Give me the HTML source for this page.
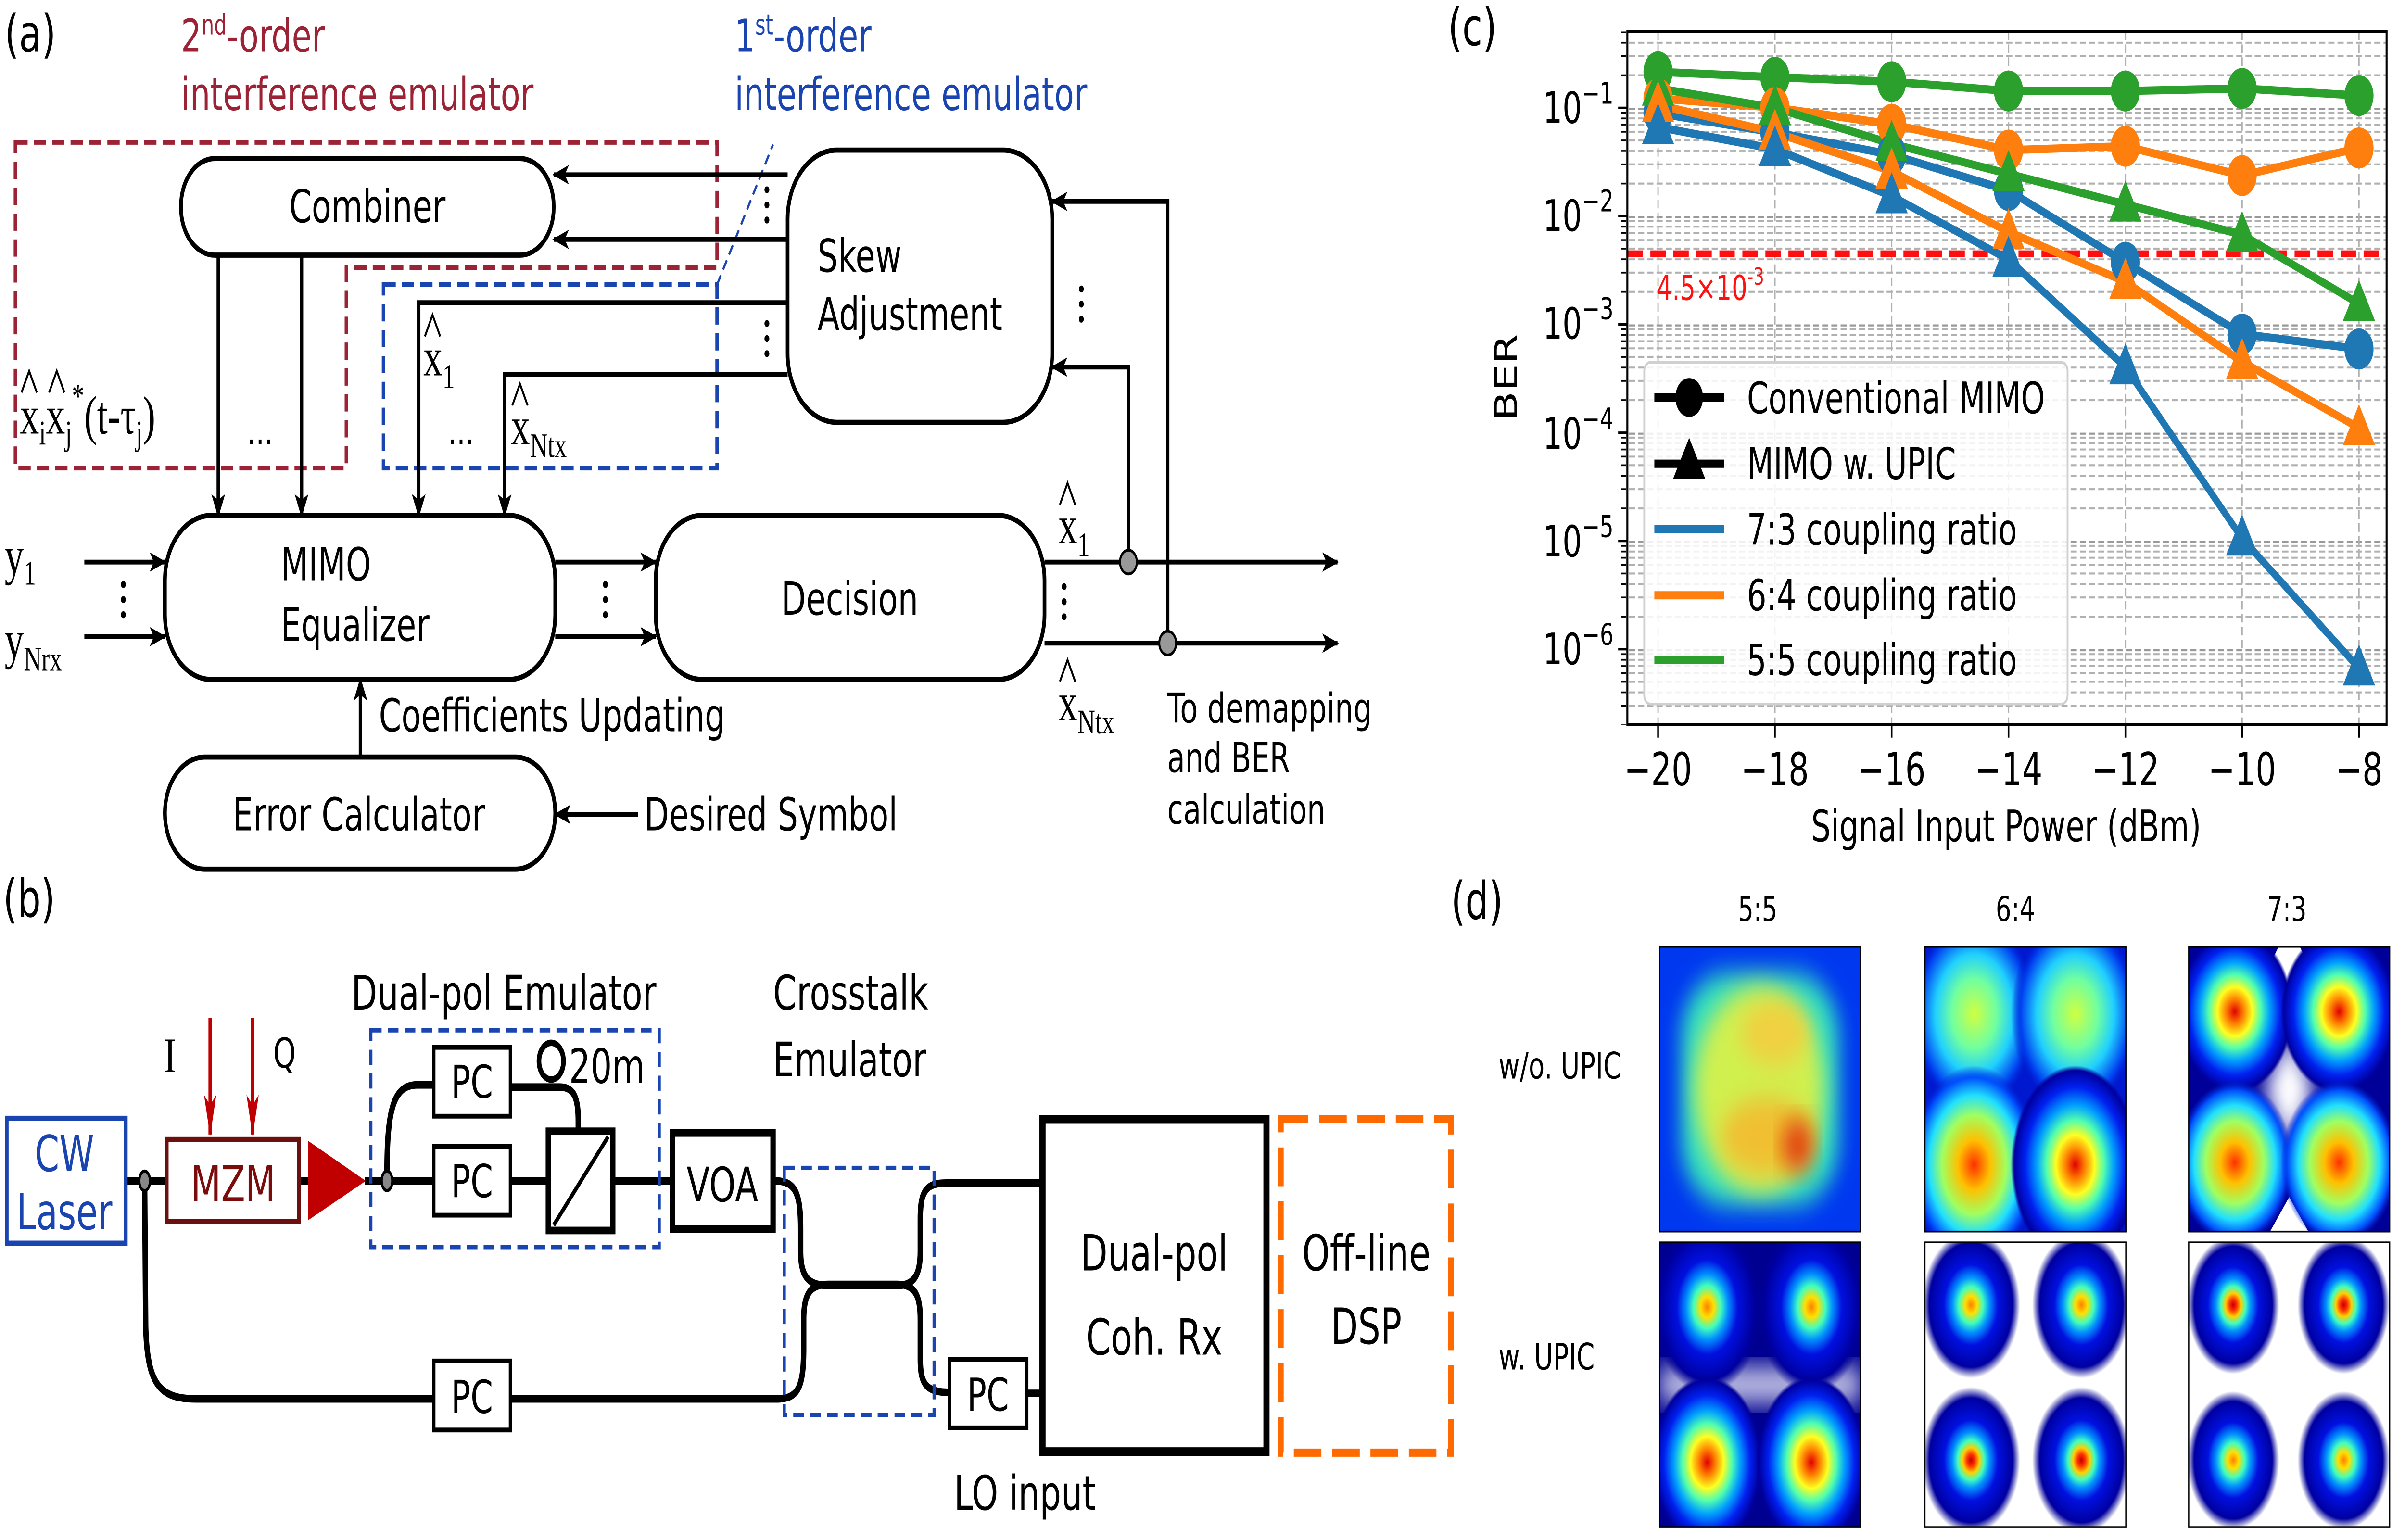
<!DOCTYPE html>
<html><head><meta charset="utf-8"><style>html,body{margin:0;padding:0;background:#fff;overflow:hidden}svg{display:block;width:100vw;height:100vh}</style></head>
<body>
<svg xmlns="http://www.w3.org/2000/svg" viewBox="0 0 1568 714" preserveAspectRatio="none" font-family="'DejaVu Sans','Liberation Sans',sans-serif">
<defs>
<marker id="ah" viewBox="0 0 12 10" refX="11" refY="5" markerWidth="12" markerHeight="9" markerUnits="userSpaceOnUse" orient="auto"><path d="M0,0 L12,5 L0,10 L3,5 z" fill="#000"/></marker>
<marker id="ahr" viewBox="0 0 10 24" refX="5" refY="23" markerWidth="8" markerHeight="22" markerUnits="userSpaceOnUse" orient="0"><path d="M0,0 L5,24 L10,0 L5,6 z" fill="#c00000"/></marker>
<pattern id="grid" patternUnits="userSpaceOnUse" x="0" y="50" width="600" height="50.2">
<g stroke="#b0b0b0" stroke-width="0.9" stroke-dasharray="4,2">
<line x1="0" y1="0.4" x2="600" y2="0.4" stroke="#999" stroke-width="1.1"/>
<line x1="0" y1="35.1" x2="600" y2="35.1"/><line x1="0" y1="26.2" x2="600" y2="26.2"/>
<line x1="0" y1="20" x2="600" y2="20"/><line x1="0" y1="15.1" x2="600" y2="15.1"/>
<line x1="0" y1="11.1" x2="600" y2="11.1"/><line x1="0" y1="7.8" x2="600" y2="7.8"/>
<line x1="0" y1="4.9" x2="600" y2="4.9"/><line x1="0" y1="2.3" x2="600" y2="2.3"/>
</g></pattern>
<pattern id="mt" patternUnits="userSpaceOnUse" x="0" y="50" width="10" height="50.2">
<g stroke="#000" stroke-width="0.8">
<line x1="7" y1="35.1" x2="10" y2="35.1"/><line x1="7" y1="26.2" x2="10" y2="26.2"/>
<line x1="7" y1="20" x2="10" y2="20"/><line x1="7" y1="15.1" x2="10" y2="15.1"/>
<line x1="7" y1="11.1" x2="10" y2="11.1"/><line x1="7" y1="7.8" x2="10" y2="7.8"/>
<line x1="7" y1="4.9" x2="10" y2="4.9"/><line x1="7" y1="2.3" x2="10" y2="2.3"/>
</g></pattern>
<radialGradient id="gWide"><stop offset="0" stop-color="#ff3000"/><stop offset="0.25" stop-color="#ffc000"/><stop offset="0.5" stop-color="#a0ff60"/><stop offset="0.7" stop-color="#20e0ff"/><stop offset="0.88" stop-color="#0050ff"/><stop offset="1" stop-color="#0020d0" stop-opacity="0"/></radialGradient>
<radialGradient id="gCyan"><stop offset="0" stop-color="#d0ff40"/><stop offset="0.35" stop-color="#70ffa0"/><stop offset="0.6" stop-color="#20d0ff"/><stop offset="0.85" stop-color="#0040f0"/><stop offset="1" stop-color="#0010c0" stop-opacity="0"/></radialGradient>
<radialGradient id="gMid"><stop offset="0" stop-color="#e00000"/><stop offset="0.15" stop-color="#ff8000"/><stop offset="0.3" stop-color="#ffff20"/><stop offset="0.45" stop-color="#50ffb0"/><stop offset="0.6" stop-color="#00a0ff"/><stop offset="0.78" stop-color="#0020f0"/><stop offset="0.95" stop-color="#0000a0"/><stop offset="1" stop-color="#000090" stop-opacity="0"/></radialGradient>
<radialGradient id="gTight"><stop offset="0" stop-color="#c00000"/><stop offset="0.08" stop-color="#ff3000"/><stop offset="0.17" stop-color="#ffd000"/><stop offset="0.27" stop-color="#40ffc0"/><stop offset="0.38" stop-color="#0090ff"/><stop offset="0.55" stop-color="#0010e0"/><stop offset="0.85" stop-color="#0000a0"/><stop offset="1" stop-color="#000090" stop-opacity="0"/></radialGradient>
<radialGradient id="gTight2"><stop offset="0" stop-color="#ff8000"/><stop offset="0.12" stop-color="#ffe000"/><stop offset="0.25" stop-color="#40ffc0"/><stop offset="0.38" stop-color="#0090ff"/><stop offset="0.55" stop-color="#0010e0"/><stop offset="0.85" stop-color="#0000a0"/><stop offset="1" stop-color="#000090" stop-opacity="0"/></radialGradient>
<clipPath id="cp"><rect x="0" y="0" width="131" height="132"/></clipPath>
<filter id="bl" x="-0.3" y="-0.3" width="1.6" height="1.6"><feGaussianBlur stdDeviation="6"/></filter>
</defs>

<!-- ================= (a) ================= -->
<g fill="#000" font-size="22">
<text x="3" y="24" font-size="24">(a)</text>
<text x="118" y="24" fill="#9b2335" font-size="21">2<tspan dy="-8" font-size="13">nd</tspan><tspan dy="8">-order</tspan></text>
<text x="118" y="51" fill="#9b2335" font-size="21">interference emulator</text>
<text x="479" y="24" fill="#1a44b0" font-size="21">1<tspan dy="-8" font-size="13">st</tspan><tspan dy="8">-order</tspan></text>
<text x="479" y="51" fill="#1a44b0" font-size="21">interference emulator</text>
</g>
<path d="M10,66 H467.5 V124 H225.8 V217 H10 Z" fill="none" stroke="#9b2335" stroke-width="2.2" stroke-dasharray="8,4"/>
<rect x="250" y="132" width="217.5" height="85" fill="none" stroke="#1a44b0" stroke-width="2.2" stroke-dasharray="8,4"/>
<line x1="467.5" y1="132" x2="504" y2="67" stroke="#1a44b0" stroke-width="1.3" stroke-dasharray="5,3"/>

<g fill="none" stroke="#000" stroke-width="2.4">
<rect x="118" y="73.5" width="243" height="44.8" rx="22" ry="22"/>
<rect x="513.5" y="69.6" width="172.5" height="126.2" rx="32" ry="32"/>
<rect x="107.5" y="239" width="254.5" height="76" rx="30" ry="30"/>
<rect x="427.5" y="239" width="253.5" height="76" rx="30" ry="30"/>
<rect x="107.5" y="351" width="254.5" height="52" rx="26" ry="26"/>
</g>
<g fill="#000">
<text x="239.5" y="103" text-anchor="middle" font-size="21">Combiner</text>
<text x="533" y="126" font-size="21">Skew</text>
<text x="533" y="153" font-size="21">Adjustment</text>
<text x="183" y="269" font-size="21">MIMO</text>
<text x="183" y="297" font-size="21">Equalizer</text>
<text x="554" y="285" text-anchor="middle" font-size="21">Decision</text>
<text x="234" y="385" text-anchor="middle" font-size="21">Error Calculator</text>
<text x="247" y="339" font-size="21">Coefficients Updating</text>
<text x="420" y="385" font-size="21">Desired Symbol</text>
<text x="761" y="335" font-size="19">To demapping</text>
<text x="761" y="358" font-size="19">and BER</text>
<text x="761" y="382" font-size="19">calculation</text>
</g>
<g stroke="#000" stroke-width="2.2" fill="none" marker-end="url(#ah)">
<line x1="513.5" y1="81" x2="361" y2="81"/>
<line x1="513.5" y1="111" x2="361" y2="111"/>
<line x1="142.3" y1="118" x2="142.3" y2="239"/>
<line x1="196.6" y1="118" x2="196.6" y2="239"/>
<polyline points="513.5,140.3 273,140.3 273,239"/>
<polyline points="513.5,173.6 329,173.6 329,239"/>
<line x1="55" y1="260.6" x2="107.5" y2="260.6"/>
<line x1="55" y1="295.2" x2="107.5" y2="295.2"/>
<line x1="362" y1="260.6" x2="427.5" y2="260.6"/>
<line x1="362" y1="295.2" x2="427.5" y2="295.2"/>
<line x1="681" y1="260.6" x2="872" y2="260.6"/>
<line x1="681" y1="298.2" x2="872" y2="298.2"/>
<polyline points="735.7,260.6 735.7,170.2 686,170.2"/>
<polyline points="761.3,298.2 761.3,93.4 686,93.4"/>
<line x1="235" y1="351" x2="235" y2="315"/>
<line x1="416" y1="377.6" x2="362" y2="377.6"/>
</g>
<g fill="#999" stroke="#000" stroke-width="1.3"><circle cx="735.7" cy="260.6" r="5.5"/><circle cx="761.3" cy="298.2" r="5.5"/></g>
<g fill="#000">
<circle cx="500" cy="88" r="1.6"/><circle cx="500" cy="95" r="1.6"/><circle cx="500" cy="102" r="1.6"/>
<circle cx="500" cy="150" r="1.6"/><circle cx="500" cy="157" r="1.6"/><circle cx="500" cy="164" r="1.6"/>
<circle cx="705" cy="134" r="1.6"/><circle cx="705" cy="141" r="1.6"/><circle cx="705" cy="148" r="1.6"/>
<circle cx="80.4" cy="271" r="1.6"/><circle cx="80.4" cy="278" r="1.6"/><circle cx="80.4" cy="285" r="1.6"/>
<circle cx="394.7" cy="271" r="1.6"/><circle cx="394.7" cy="278" r="1.6"/><circle cx="394.7" cy="285" r="1.6"/>
<circle cx="693.8" cy="272" r="1.6"/><circle cx="693.8" cy="279" r="1.6"/><circle cx="693.8" cy="286" r="1.6"/>
<text x="161" y="206" font-size="18">...</text>
<text x="292" y="206" font-size="18">...</text>
</g>
<g font-family="'Liberation Serif','DejaVu Serif',serif" fill="#000" font-size="25">
<text x="3" y="266">y<tspan dy="5" font-size="16">1</tspan></text>
<text x="3" y="305">y<tspan dy="6" font-size="16">Nrx</tspan></text>
<text x="13" y="201">x<tspan dy="5" font-size="16">i</tspan><tspan dy="-5">x</tspan><tspan dy="5" font-size="16">j</tspan><tspan dy="-17" font-size="16">*</tspan><tspan dy="12">(t-τ</tspan><tspan dy="5" font-size="16">j</tspan><tspan dy="-5">)</tspan></text>
<text x="276" y="174">x<tspan dy="6" font-size="16">1</tspan></text>
<text x="333" y="206">x<tspan dy="6" font-size="16">Ntx</tspan></text>
<text x="690" y="252">x<tspan dy="6" font-size="16">1</tspan></text>
<text x="690" y="334">x<tspan dy="6" font-size="16">Ntx</tspan></text>
</g>
<g fill="none" stroke="#000" stroke-width="1.2">
<path d="M14,182 L19,172 L24,182"/><path d="M32,182 L37,172 L42,182"/>
<path d="M277,156 L282,146 L287,156"/><path d="M334,188 L339,178 L344,188"/>
<path d="M691,234 L696,224 L701,234"/><path d="M691,316 L696,306 L701,316"/>
</g>

<!-- ================= (b) ================= -->
<text x="2" y="425" font-size="24">(b)</text>
<text x="229" y="468" font-size="22">Dual-pol Emulator</text>
<text x="504" y="468" font-size="22">Crosstalk</text>
<text x="504" y="499" font-size="22">Emulator</text>
<text x="622" y="700" font-size="22">LO input</text>
<text x="107" y="497" font-size="23" font-family="'Liberation Serif',serif">I</text>
<text x="178" y="495" font-size="19">Q</text>
<g stroke="#c00000" stroke-width="2.2" marker-end="url(#ahr)">
<line x1="137" y1="472" x2="137" y2="526"/><line x1="164.7" y1="472" x2="164.7" y2="526"/>
</g>
<g fill="none" stroke="#000" stroke-width="3.5">
<line x1="82" y1="547.5" x2="109" y2="547.5"/>
<line x1="195" y1="547.5" x2="201" y2="547.5"/>
<line x1="238" y1="547.5" x2="283" y2="547.5"/>
<line x1="333" y1="547.5" x2="357" y2="547.5"/>
<line x1="400" y1="547.5" x2="438" y2="547.5"/>
<path d="M252.3,547.5 C252,515 256,503 272,503 L283,503"/>
<path d="M333,504 L365,504 C375,504 377,510 377,520 L377,524"/>
<path d="M94.3,547.5 L95,615 C96,642 104,648.6 128,648.6 L283,648.6"/>
<path d="M333,648.6 L506,648.6 C520,648.6 524,644 524,625 L524,612 C524,600 528,595.5 540,595.5 L585,595.5 C597,595.5 600,601 600,612 L600,630 C600,642 604,645.5 619,645.5"/>
<path d="M504.7,547.5 C518,547.5 522,552 522,570 L522,580 C522,592 527,596 540,596 L585,596 C597,596 600,590 600,580 L600,565 C600,552 604,548.5 617,548.5 L679,548.5"/>
<line x1="669" y1="646" x2="679" y2="646"/>
</g>
<rect x="241.8" y="477.7" width="188" height="100.5" fill="none" stroke="#1a44b0" stroke-width="2" stroke-dasharray="7,4"/>
<rect x="511.3" y="541.5" width="97.7" height="114.5" fill="none" stroke="#1a44b0" stroke-width="2" stroke-dasharray="7,4"/>
<rect x="4.4" y="518.5" width="77.6" height="57.9" fill="#fff" stroke="#1a44b0" stroke-width="2.4"/>
<text x="42" y="543" text-anchor="middle" font-size="23" fill="#1a44b0">CW</text>
<text x="42" y="570" text-anchor="middle" font-size="23" fill="#1a44b0">Laser</text>
<rect x="108.7" y="528.3" width="86.3" height="38.1" fill="#fff" stroke="#6b0f0f" stroke-width="2.4"/>
<text x="152" y="557" text-anchor="middle" font-size="23" fill="#7a0c0c">MZM</text>
<path d="M200.8,528.9 L238.5,547.5 L200.8,565.8 Z" fill="#c00000"/>
<g fill="#888" stroke="#000" stroke-width="1.5"><ellipse cx="94.3" cy="547.5" rx="3.5" ry="4.5"/><ellipse cx="252.3" cy="547.5" rx="3.5" ry="4.5"/></g>
<g fill="#fff" stroke="#000" stroke-width="2.2">
<rect x="282.8" y="485.6" width="50" height="31.9"/>
<rect x="282.8" y="531.5" width="50" height="31.9"/>
<rect x="282.8" y="631" width="50" height="32"/>
<rect x="619" y="630.2" width="50.4" height="31.8"/>
</g>
<g font-size="21" text-anchor="middle"><text x="307.8" y="509">PC</text><text x="307.8" y="555">PC</text><text x="307.8" y="655">PC</text><text x="644.2" y="654">PC</text></g>
<ellipse cx="359.4" cy="492" rx="8" ry="8.5" fill="none" stroke="#000" stroke-width="3"/>
<text x="371" y="502" font-size="22">20m</text>
<rect x="357.5" y="524.5" width="42" height="46" fill="#fff" stroke="#000" stroke-width="3.5"/>
<line x1="396.5" y1="527" x2="361" y2="568" stroke="#000" stroke-width="2.2"/>
<rect x="438.5" y="525.3" width="65.5" height="44.5" fill="#fff" stroke="#000" stroke-width="3.5"/>
<text x="471" y="557" text-anchor="middle" font-size="22">VOA</text>
<rect x="679.7" y="519" width="146" height="154" fill="#fff" stroke="#000" stroke-width="4"/>
<text x="752.5" y="589" text-anchor="middle" font-size="23">Dual-pol</text>
<text x="752.5" y="628" text-anchor="middle" font-size="23">Coh. Rx</text>
<rect x="835" y="519" width="111" height="154.5" fill="none" stroke="#ff6a00" stroke-width="3.8" stroke-dasharray="18,7"/>
<text x="890.8" y="589" text-anchor="middle" font-size="23">Off-line</text>
<text x="890.8" y="623" text-anchor="middle" font-size="23">DSP</text>

<!-- ================= (c) ================= -->
<text x="944" y="21" font-size="24">(c)</text>
<rect x="1061" y="14.6" width="495" height="321.4" fill="url(#grid)"/>
<g stroke="#b0b0b0" stroke-width="0.9" stroke-dasharray="4,2">
<line x1="1081" y1="14.6" x2="1081" y2="336"/><line x1="1157.2" y1="14.6" x2="1157.2" y2="336"/>
<line x1="1233.3" y1="14.6" x2="1233.3" y2="336"/><line x1="1309.5" y1="14.6" x2="1309.5" y2="336"/>
<line x1="1385.7" y1="14.6" x2="1385.7" y2="336"/><line x1="1461.8" y1="14.6" x2="1461.8" y2="336"/>
<line x1="1538" y1="14.6" x2="1538" y2="336"/>
</g>
<rect x="1051" y="14.6" width="10" height="321.4" fill="url(#mt)"/>
<line x1="1061" y1="117.6" x2="1556" y2="117.6" stroke="#ff1010" stroke-width="3" stroke-dasharray="10,5"/>
<text x="1080" y="139" font-size="16" fill="#ff1010">4.5×10<tspan dy="-7" font-size="11">-3</tspan></text>
<g fill="none" stroke-width="3.8" stroke-linejoin="round">
<polyline stroke="#2ca02c" points="1081,33.3 1157.2,35.8 1233.3,37.9 1309.5,42.2 1385.7,42.2 1461.8,41 1538,44.3"/>
<polyline stroke="#ff7f0e" points="1081,45.6 1157.2,49.9 1233.3,57.6 1309.5,69.6 1385.7,67.8 1461.8,81.4 1538,68.6"/>
<polyline stroke="#1f77b4" points="1081,52.5 1157.2,61.4 1233.3,71.7 1309.5,88.3 1385.7,121.6 1461.8,154.9 1538,161.8"/>
<polyline stroke="#2ca02c" points="1081,41 1157.2,50 1233.3,66.6 1309.5,80.6 1385.7,94.7 1461.8,108.8 1538,140.8"/>
<polyline stroke="#ff7f0e" points="1081,48.6 1157.2,61.4 1233.3,79.4 1309.5,107.5 1385.7,130.6 1461.8,167.7 1538,198.4"/>
<polyline stroke="#1f77b4" points="1081,58.9 1157.2,69.1 1233.3,90.9 1309.5,120.3 1385.7,170.2 1461.8,249.6 1538,309.8"/>
</g>
<g fill="#2ca02c"><circle cx="1081" cy="33.3" r="9.5"/><circle cx="1157.2" cy="35.8" r="9.5"/><circle cx="1233.3" cy="37.9" r="9.5"/><circle cx="1309.5" cy="42.2" r="9.5"/><circle cx="1385.7" cy="42.2" r="9.5"/><circle cx="1461.8" cy="41" r="9.5"/><circle cx="1538" cy="44.3" r="9.5"/></g>
<g fill="#ff7f0e"><circle cx="1081" cy="45.6" r="9.5"/><circle cx="1157.2" cy="49.9" r="9.5"/><circle cx="1233.3" cy="57.6" r="9.5"/><circle cx="1309.5" cy="69.6" r="9.5"/><circle cx="1385.7" cy="67.8" r="9.5"/><circle cx="1461.8" cy="81.4" r="9.5"/><circle cx="1538" cy="68.6" r="9.5"/></g>
<g fill="#1f77b4"><circle cx="1081" cy="52.5" r="9.5"/><circle cx="1157.2" cy="61.4" r="9.5"/><circle cx="1233.3" cy="71.7" r="9.5"/><circle cx="1309.5" cy="88.3" r="9.5"/><circle cx="1385.7" cy="121.6" r="9.5"/><circle cx="1461.8" cy="154.9" r="9.5"/><circle cx="1538" cy="161.8" r="9.5"/></g>
<g fill="#2ca02c">
<path d="M1081,30 l-10.5,19 h21 z"/><path d="M1157.2,39 l-10.5,19 h21 z"/><path d="M1233.3,55.6 l-10.5,19 h21 z"/><path d="M1309.5,69.6 l-10.5,19 h21 z"/><path d="M1385.7,83.7 l-10.5,19 h21 z"/><path d="M1461.8,97.8 l-10.5,19 h21 z"/><path d="M1538,129.8 l-10.5,19 h21 z"/></g>
<g fill="#ff7f0e">
<path d="M1081,37.6 l-10.5,19 h21 z"/><path d="M1157.2,50.4 l-10.5,19 h21 z"/><path d="M1233.3,68.4 l-10.5,19 h21 z"/><path d="M1309.5,96.5 l-10.5,19 h21 z"/><path d="M1385.7,119.6 l-10.5,19 h21 z"/><path d="M1461.8,156.7 l-10.5,19 h21 z"/><path d="M1538,187.4 l-10.5,19 h21 z"/></g>
<g fill="#1f77b4">
<path d="M1081,47.9 l-10.5,19 h21 z"/><path d="M1157.2,58.1 l-10.5,19 h21 z"/><path d="M1233.3,79.9 l-10.5,19 h21 z"/><path d="M1309.5,109.3 l-10.5,19 h21 z"/><path d="M1385.7,159.2 l-10.5,19 h21 z"/><path d="M1461.8,238.6 l-10.5,19 h21 z"/><path d="M1538,298.8 l-10.5,19 h21 z"/></g>
<rect x="1072" y="168" width="276" height="158.4" rx="4" fill="#fff" fill-opacity="0.85" stroke="#d0d0d0" stroke-width="1.2"/>
<g stroke-width="3.8">
<line x1="1078.6" y1="184.3" x2="1124" y2="184.3" stroke="#000"/>
<line x1="1078.6" y1="215" x2="1124" y2="215" stroke="#000"/>
<line x1="1078.6" y1="245.2" x2="1124" y2="245.2" stroke="#1f77b4"/>
<line x1="1078.6" y1="276" x2="1124" y2="276" stroke="#ff7f0e"/>
<line x1="1078.6" y1="306" x2="1124" y2="306" stroke="#2ca02c"/>
</g>
<circle cx="1101.3" cy="184.3" r="9" fill="#000"/>
<path d="M1101.3,203 l-10.5,19 h21 z" fill="#000"/>
<g font-size="20"><text x="1139" y="191.5">Conventional MIMO</text><text x="1139" y="222">MIMO w. UPIC</text><text x="1139" y="252.5">7:3 coupling ratio</text><text x="1139" y="283">6:4 coupling ratio</text><text x="1139" y="313">5:5 coupling ratio</text></g>
<rect x="1061" y="14.6" width="495" height="321.4" fill="none" stroke="#000" stroke-width="1.3"/>
<g stroke="#000" stroke-width="1.1">
<line x1="1055" y1="50" x2="1061" y2="50"/><line x1="1055" y1="100.2" x2="1061" y2="100.2"/><line x1="1055" y1="150.4" x2="1061" y2="150.4"/><line x1="1055" y1="200.6" x2="1061" y2="200.6"/><line x1="1055" y1="250.8" x2="1061" y2="250.8"/><line x1="1055" y1="301" x2="1061" y2="301"/>
<line x1="1081" y1="336" x2="1081" y2="342"/><line x1="1157.2" y1="336" x2="1157.2" y2="342"/><line x1="1233.3" y1="336" x2="1233.3" y2="342"/><line x1="1309.5" y1="336" x2="1309.5" y2="342"/><line x1="1385.7" y1="336" x2="1385.7" y2="342"/><line x1="1461.8" y1="336" x2="1461.8" y2="342"/><line x1="1538" y1="336" x2="1538" y2="342"/>
</g>
<g font-size="20" text-anchor="end">
<text x="1052" y="57">10<tspan dy="-9" font-size="14">−1</tspan></text>
<text x="1052" y="107">10<tspan dy="-9" font-size="14">−2</tspan></text>
<text x="1052" y="157">10<tspan dy="-9" font-size="14">−3</tspan></text>
<text x="1052" y="208">10<tspan dy="-9" font-size="14">−4</tspan></text>
<text x="1052" y="258">10<tspan dy="-9" font-size="14">−5</tspan></text>
<text x="1052" y="308">10<tspan dy="-9" font-size="14">−6</tspan></text>
</g>
<g font-size="21" text-anchor="middle">
<text x="1081" y="364">−20</text><text x="1157.2" y="364">−18</text><text x="1233.3" y="364">−16</text><text x="1309.5" y="364">−14</text><text x="1385.7" y="364">−12</text><text x="1461.8" y="364">−10</text><text x="1538" y="364">−8</text>
</g>
<text x="1308" y="390" text-anchor="middle" font-size="20">Signal Input Power (dBm)</text>
<text transform="translate(989,175) rotate(-90)" text-anchor="middle" font-size="20">BER</text>

<!-- ================= (d) ================= -->
<text x="946" y="426" font-size="24">(d)</text>
<g font-size="16" text-anchor="middle"><text x="1146" y="427">5:5</text><text x="1314" y="427">6:4</text><text x="1491" y="427">7:3</text></g>
<text x="977" y="500" font-size="17">w/o. UPIC</text>
<text x="977" y="635" font-size="17">w. UPIC</text>

<g transform="translate(1082,439)"><g clip-path="url(#cp)">
<rect width="131" height="132" fill="#0038f0"/>
<rect x="14" y="12" width="103" height="108" rx="30" fill="#30e0c0" filter="url(#bl)"/>
<ellipse cx="65" cy="66" rx="42" ry="48" fill="#d0f050" filter="url(#bl)"/>
<ellipse cx="75" cy="40" rx="22" ry="15" fill="#f0d040" filter="url(#bl)"/>
<ellipse cx="70" cy="88" rx="30" ry="18" fill="#f0c030" filter="url(#bl)"/>
<ellipse cx="90" cy="92" rx="10" ry="12" fill="#e04010" filter="url(#bl)"/>
</g><rect width="131" height="132" fill="none" stroke="#000" stroke-width="0.8"/></g>
<g transform="translate(1255,439)"><g clip-path="url(#cp)">
<rect width="131" height="132" fill="#0018d0"/>
<ellipse cx="32" cy="31" rx="42" ry="46" fill="url(#gCyan)"/>
<ellipse cx="98" cy="31" rx="42" ry="46" fill="url(#gCyan)"/>
<ellipse cx="32" cy="101" rx="42" ry="46" fill="url(#gWide)"/>
<ellipse cx="98" cy="101" rx="42" ry="46" fill="url(#gMid)"/>
</g><rect width="131" height="132" fill="none" stroke="#000" stroke-width="0.8"/></g>
<g transform="translate(1427,439)"><g clip-path="url(#cp)">
<rect width="131" height="132" fill="#000098"/>
<path d="M65.5,40 L82,66 L65.5,94 L49,66 Z" fill="#fff" filter="url(#bl)"/>
<path d="M65.5,-10 L78,8 L65.5,18 L53,8 Z" fill="#fff"/>
<path d="M65.5,116 L78,132 L53,132 Z" fill="#fff"/>
<ellipse cx="30" cy="30" rx="38" ry="38" fill="url(#gMid)"/>
<ellipse cx="98" cy="30" rx="38" ry="38" fill="url(#gMid)"/>
<ellipse cx="30" cy="100" rx="38" ry="38" fill="url(#gWide)"/>
<ellipse cx="98" cy="100" rx="38" ry="38" fill="url(#gWide)"/>
</g><rect width="131" height="132" fill="none" stroke="#000" stroke-width="0.8"/></g>
<g transform="translate(1082,576)"><g clip-path="url(#cp)">
<rect width="131" height="132" fill="#000090"/>
<rect x="0" y="58" width="131" height="16" fill="#c8c8e8" filter="url(#bl)"/>
<ellipse cx="31" cy="30" rx="36" ry="40" fill="url(#gTight2)"/>
<ellipse cx="99" cy="30" rx="36" ry="40" fill="url(#gTight2)"/>
<ellipse cx="31" cy="102" rx="36" ry="40" fill="url(#gMid)"/>
<ellipse cx="99" cy="102" rx="36" ry="40" fill="url(#gMid)"/>
</g><rect width="131" height="132" fill="none" stroke="#000" stroke-width="0.8"/></g>
<g transform="translate(1255,576)"><g clip-path="url(#cp)">
<rect width="131" height="132" fill="#fff"/>
<ellipse cx="30" cy="29" rx="32" ry="34" fill="url(#gTight2)"/>
<ellipse cx="102" cy="29" rx="32" ry="34" fill="url(#gTight2)"/>
<ellipse cx="30" cy="101" rx="32" ry="34" fill="url(#gTight)"/>
<ellipse cx="102" cy="101" rx="32" ry="34" fill="url(#gTight)"/>
</g><rect width="131" height="132" fill="none" stroke="#000" stroke-width="0.8"/></g>
<g transform="translate(1427,576)"><g clip-path="url(#cp)">
<rect width="131" height="132" fill="#fff"/>
<ellipse cx="29" cy="29" rx="30" ry="32" fill="url(#gTight)"/>
<ellipse cx="101" cy="29" rx="30" ry="32" fill="url(#gTight)"/>
<ellipse cx="29" cy="101" rx="30" ry="32" fill="url(#gTight2)"/>
<ellipse cx="101" cy="101" rx="30" ry="32" fill="url(#gTight2)"/>
</g><rect width="131" height="132" fill="none" stroke="#000" stroke-width="0.8"/></g>
</svg>
</body></html>
